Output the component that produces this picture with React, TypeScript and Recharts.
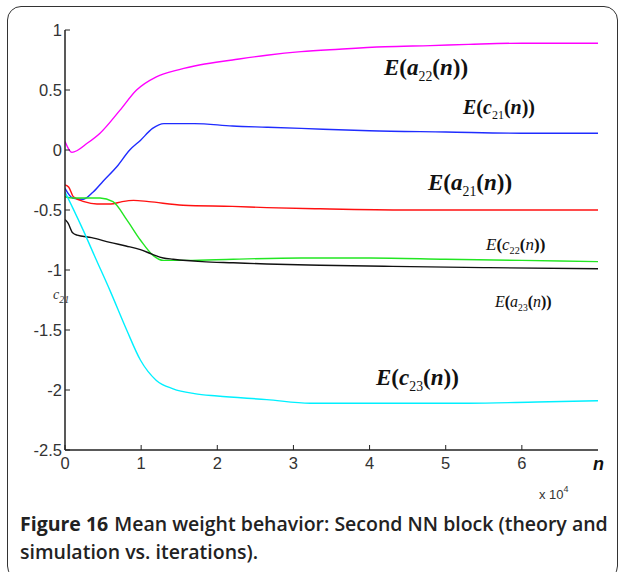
import { LineChart, Line, XAxis, YAxis } from 'recharts';

// iterations (x 10^4) and mean weights
const a22X = [0, 0.09, 0.3, 0.46, 0.72, 0.94, 1.2, 1.5, 1.78, 2.2, 2.65, 3.1, 3.6, 4.2, 4.8, 5.3, 6, 7];
const a22Y = [0.07, -0.02, 0.06, 0.14, 0.33, 0.5, 0.61, 0.67, 0.71, 0.75, 0.79, 0.82, 0.84, 0.86, 0.87, 0.88, 0.89, 0.89];

const c21X = [0, 0.1, 0.24, 0.37, 0.5, 0.68, 0.85, 0.99, 1.15, 1.3, 1.5, 1.7, 2.2, 2.65, 3.1, 4, 5, 6, 7];
const c21Y = [-0.32, -0.4, -0.41, -0.35, -0.26, -0.14, 0.0, 0.08, 0.18, 0.22, 0.22, 0.22, 0.2, 0.19, 0.18, 0.16, 0.15, 0.14, 0.14];

const a21X = [0, 0.05, 0.11, 0.25, 0.42, 0.6, 0.75, 0.9, 1.1, 1.55, 2.2, 2.65, 3.35, 4.5, 5.5, 7];
const a21Y = [-0.29, -0.31, -0.39, -0.43, -0.45, -0.45, -0.43, -0.42, -0.43, -0.46, -0.47, -0.48, -0.49, -0.5, -0.5, -0.5];

const c22X = [0, 0.1, 0.46, 0.63, 0.81, 0.99, 1.16, 1.29, 1.6, 2.21, 3.1, 4, 5, 6, 7];
const c22Y = [-0.39, -0.4, -0.4, -0.43, -0.58, -0.75, -0.88, -0.92, -0.92, -0.91, -0.9, -0.9, -0.91, -0.92, -0.93];

const a23X = [0, 0.04, 0.1, 0.16, 0.35, 0.59, 0.8, 0.99, 1.15, 1.29, 1.42, 1.8, 2.21, 2.65, 3.35, 4.3, 5.5, 7];
const a23Y = [-0.58, -0.61, -0.69, -0.71, -0.73, -0.77, -0.8, -0.83, -0.87, -0.9, -0.91, -0.93, -0.94, -0.95, -0.96, -0.97, -0.98, -0.99];

const c23X = [0, 0.1, 0.24, 0.4, 0.59, 0.81, 0.99, 1.2, 1.42, 1.7, 2, 2.65, 3.22, 4, 5.29, 6.2, 7];
const c23Y = [-0.35, -0.48, -0.67, -0.9, -1.17, -1.5, -1.75, -1.92, -1.99, -2.03, -2.05, -2.08, -2.11, -2.11, -2.11, -2.1, -2.09];

const xTicks = [0, 1, 2, 3, 4, 5, 6];
const yTicks = [-2.5, -2, -1.5, -1, -0.5, 0, 0.5, 1];

const pts = (xs: number[], ys: number[]) => xs.map((x, i) => ({ x, y: ys[i] }));

const series = [
  { name: 'a22', data: pts(a22X, a22Y), color: '#ff00ff' },
  { name: 'c21', data: pts(c21X, c21Y), color: '#1f2cff' },
  { name: 'a21', data: pts(a21X, a21Y), color: '#ff1010' },
  { name: 'c22', data: pts(c22X, c22Y), color: '#22e622' },
  { name: 'a23', data: pts(a23X, a23Y), color: '#111111' },
  { name: 'c23', data: pts(c23X, c23Y), color: '#00f0ff' },
];

const math = '"Liberation Serif", "DejaVu Serif", serif';
const tickStyle = { fill: '#333', fontSize: 16.5, fontFamily: '"Liberation Sans", Arial, sans-serif' };

function Tag({ left, top, size, sym, sub, bold = true }: { left: number; top: number; size: number; sym: string; sub: string; bold?: boolean }) {
  return (
    <div
      style={{
        position: 'absolute', left, top, fontFamily: math, fontSize: size, fontStyle: 'italic',
        fontWeight: bold ? 700 : 400, color: '#111', whiteSpace: 'nowrap', lineHeight: 1,
      }}
    >
      E<span style={{ fontWeight: 700, fontStyle: 'normal' }}>(</span>
      {sym}
      <span style={{ fontSize: size * 0.6, fontStyle: 'normal', fontWeight: 400, verticalAlign: -size * 0.25 }}>{sub}</span>
      <span style={{ fontWeight: 700, fontStyle: 'normal' }}>(</span>
      n
      <span style={{ fontWeight: 700, fontStyle: 'normal' }}>))</span>
    </div>
  );
}

export default function App() {
  return (
    <div style={{ position: 'absolute', left: 0, top: 0, width: 625, height: 572, background: '#fff', overflow: 'hidden' }}>
      <div style={{ position: 'absolute', left: 7, top: 6, width: 609, height: 572, border: '1.5px solid #333', borderRadius: 14 }} />
      <div style={{ position: 'absolute', left: 0, top: 0 }}>
        <LineChart width={625} height={572} margin={{ top: 30, right: 27, bottom: 92, left: 0 }}>
          <XAxis
            xAxisId="b" dataKey="x" type="number" domain={[0, 7]} ticks={xTicks} height={30}
            allowDataOverflow tick={tickStyle} tickSize={-5} tickMargin={12}
            stroke="#222" axisLine={{ stroke: '#222', strokeWidth: 1.5 }}
          />
          <XAxis
            xAxisId="t" orientation="top" dataKey="x" type="number" domain={[0, 7]} ticks={xTicks.slice(1)} height={0}
            tick={false} tickSize={-5} stroke="#222" axisLine={{ stroke: '#222', strokeWidth: 1.5 }}
          />
          <YAxis
            yAxisId="l" type="number" domain={[-2.5, 1]} ticks={yTicks} width={65}
            tick={tickStyle} tickSize={-5} tickMargin={8} interval={0}
            stroke="#222" axisLine={{ stroke: '#222', strokeWidth: 1.5 }}
          />
          <YAxis
            yAxisId="r" orientation="right" type="number" domain={[-2.5, 1]} ticks={yTicks.slice(1, -1)} width={0}
            tick={false} tickSize={-5} stroke="#222" axisLine={{ stroke: '#222', strokeWidth: 1.5 }}
          />
          {series.map((s) => (
            <Line
              key={s.name} xAxisId="b" yAxisId="l" data={s.data} dataKey="y" type="monotone"
              stroke={s.color} strokeWidth={1.4} dot={false} isAnimationActive={false}
            />
          ))}
        </LineChart>
      </div>

      <Tag left={384} top={56} size={23} sym="a" sub="22" />
      <Tag left={463} top={97} size={20} sym="c" sub="21" />
      <Tag left={428} top={171} size={23} sym="a" sub="21" />
      <Tag left={486} top={236} size={17} sym="c" sub="22" bold={false} />
      <Tag left={495} top={294} size={16} sym="a" sub="23" bold={false} />
      <Tag left={376} top={366} size={23} sym="c" sub="23" />

      <div style={{ position: 'absolute', left: 53, top: 287, fontFamily: math, fontSize: 14, fontStyle: 'italic', color: '#333' }}>
        c<span style={{ fontSize: 10, verticalAlign: -4 }}>21</span>
      </div>
      <div style={{ position: 'absolute', left: 593, top: 454, fontFamily: '"Liberation Sans", Arial, sans-serif', fontSize: 18, fontStyle: 'italic', fontWeight: 700, color: '#111' }}>
        n
      </div>
      <div style={{ position: 'absolute', left: 539, top: 484, fontFamily: '"Liberation Sans", Arial, sans-serif', fontSize: 13, color: '#333' }}>
        x 10<span style={{ fontSize: 9, verticalAlign: 7 }}>4</span>
      </div>

      <div style={{ position: 'absolute', left: 20, top: 510, fontFamily: '"Open Sans", "Noto Sans", sans-serif', fontSize: 19.5, lineHeight: '28px', color: '#222', fontWeight: 600, whiteSpace: 'nowrap' }}>
        <span style={{ fontWeight: 700, marginRight: 6 }}>Figure 16</span>Mean weight behavior: Second NN block (theory and
        <br />
        simulation vs. iterations).
      </div>
    </div>
  );
}
